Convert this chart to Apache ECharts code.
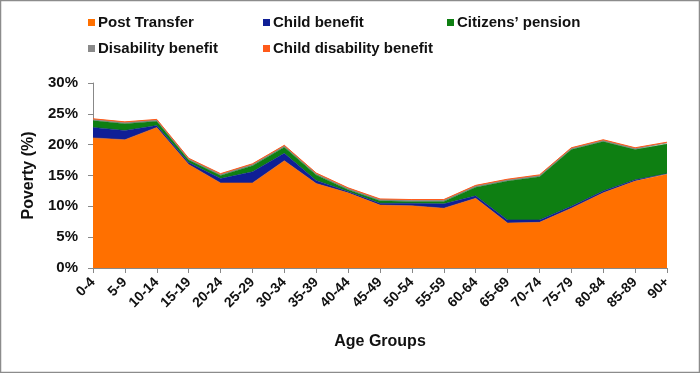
<!DOCTYPE html>
<html><head><meta charset="utf-8">
<script src="https://cdn.jsdelivr.net/npm/echarts@6/dist/echarts.min.js"></script>
<style>html,body{margin:0;padding:0;background:#fff}#c{width:700px;height:373px}</style>
</head><body><div id="c"></div>
<script>
const categories = ['0-4','5-9','10-14','15-19','20-24','25-29','30-34','35-39','40-44','45-49','50-54','55-59','60-64','65-69','70-74','75-79','80-84','85-89','90+'];
const postTransfer = [21.1,20.8,22.8,16.8,13.8,13.8,17.4,13.7,12.2,10.2,10.1,9.7,11.3,7.3,7.4,9.7,12.2,14.1,15.2];
const childBenefit = [1.7,1.5,0.3,0.3,0.7,1.8,1.2,0.5,0.2,0.3,0.4,0.7,0.4,0.5,0.4,0.3,0.3,0.2,0.1];
const citizensPension = [1.1,1.1,0.7,0.4,0.5,1.0,1.0,0.9,0.3,0.4,0.3,0.4,1.4,6.3,7.0,9.2,8.0,4.9,4.8];
const disabilityBenefit = [0.2,0.2,0.2,0.2,0.2,0.2,0.2,0.2,0.2,0.2,0.2,0.2,0.2,0.2,0.2,0.2,0.2,0.2,0.2];
const childDisabilityBenefit = [0.1,0.1,0.1,0.1,0.1,0.1,0.1,0.1,0.1,0.1,0.1,0.1,0.1,0.1,0.1,0.1,0.1,0.1,0.1];
const yTicks = [0,5,10,15,20,25,30];

const names = ['Post Transfer','Child benefit',"Citizens\u2019 pension",'Disability benefit','Child disability benefit'];
const colors = ['#FF7000','#0F1F96','#0E7F12','#8A8A8A','#FF5A1A'];
const datas = [postTransfer, childBenefit, citizensPension, disabilityBenefit, childDisabilityBenefit];
const font = 'Liberation Sans, Arial, sans-serif';

const legendPos = [[83,10],[258,10],[442,10],[83,36],[258,36]];
const chart = echarts.init(document.getElementById('c'));
chart.setOption({
  animation:false,
  graphic:[{type:'rect',shape:{x:0.5,y:0.5,width:699,height:372},style:{fill:'none',stroke:'#8c8c8c',lineWidth:1.5}}],
  legend: names.map((n,i)=>({
    data:[n], left:legendPos[i][0], top:legendPos[i][1], icon:'rect', itemWidth:7, itemHeight:7, itemGap:4,
    textStyle:{fontFamily:font,fontWeight:'bold',fontSize:15,color:'#111',padding:[0,0,0,-2]}
  })),
  grid:{left:93,right:33,top:83,bottom:105},
  xAxis:{type:'category',data:categories,boundaryGap:false,
    axisLine:{lineStyle:{color:'#888'}},axisTick:{lineStyle:{color:'#888'},length:5},
    axisLabel:{rotate:45,fontFamily:font,fontWeight:'bold',fontSize:14,color:'#111',margin:12},
    name:'Age Groups',nameLocation:'middle',nameGap:66,
    nameTextStyle:{fontFamily:font,fontWeight:'bold',fontSize:16,color:'#111'}},
  yAxis:{type:'value',min:yTicks[0],max:yTicks[yTicks.length-1],interval:5,
    splitLine:{show:false},
    axisLine:{show:true,lineStyle:{color:'#888'}},axisTick:{show:true,lineStyle:{color:'#888'},length:5},
    axisLabel:{formatter:'{value}%',fontFamily:font,fontWeight:'bold',fontSize:15,color:'#111',margin:15},
    name:'Poverty (%)',nameLocation:'middle',nameGap:52,
    nameTextStyle:{fontFamily:font,fontWeight:'bold',fontSize:16,color:'#111'}},
  series: names.map((n,i)=>({
    name:n,type:'line',stack:'total',data:datas[i],symbol:'none',
    lineStyle:{width:i>=3?1:0.5,color:colors[i]},
    itemStyle:{color:colors[i]},
    areaStyle:{color:colors[i],opacity:1}
  }))
});
</script></body></html>
